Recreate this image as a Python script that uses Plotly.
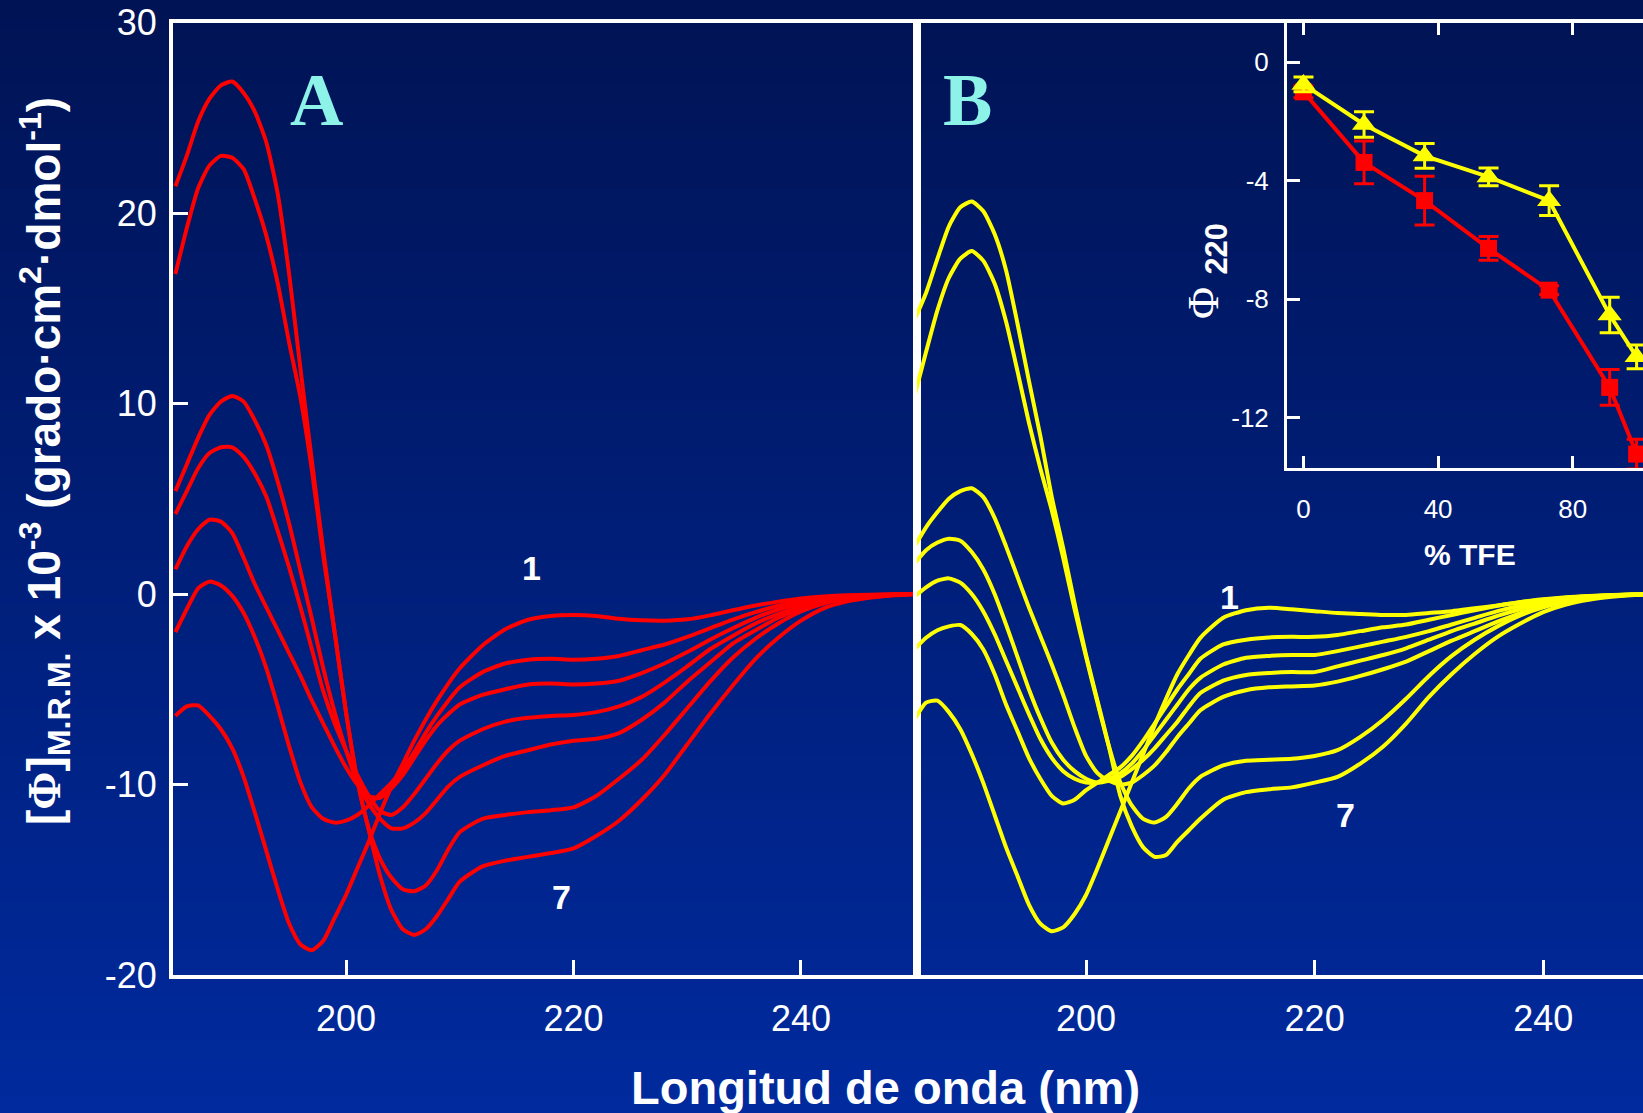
import plotly.graph_objects as go

# ---------------- data ----------------
WAVELENGTH = list(range(185, 211)) + list(range(212, 251, 2))

# Panel A (red), curves 1..7
A1 = [-6.4, -5.9, -5.85, -6.4, -7.1, -8.1, -9.6, -11.5, -13.5, -15.5, -17.3, -18.4, -18.7, -18.2, -17.0, -15.8, -14.4, -13.0, -11.5, -10.1, -8.9, -7.7, -6.6, -5.6, -4.7, -3.9,
      -2.7, -1.85, -1.35, -1.15, -1.1, -1.15, -1.3, -1.38, -1.4, -1.33, -1.12, -0.85, -0.6, -0.4, -0.23, -0.13, -0.07, -0.04, -0.02, 0.0]
A2 = [-2.0, -0.8, 0.3, 0.65, 0.45, -0.1, -1.0, -2.3, -3.9, -5.9, -8.0, -9.9, -11.2, -11.8, -12.0, -11.9, -11.6, -11.1, -10.5, -9.9, -9.2, -8.3, -7.3, -6.4, -5.6, -4.9,
      -4.1, -3.65, -3.45, -3.4, -3.45, -3.4, -3.25, -2.95, -2.65, -2.25, -1.8, -1.35, -0.95, -0.62, -0.38, -0.22, -0.12, -0.06, -0.02, 0.0]
A3 = [1.3, 2.5, 3.4, 3.9, 3.8, 3.2, 1.9, 0.5, -0.7, -1.9, -3.1, -4.3, -5.6, -6.8, -8.0, -9.1, -10.0, -10.6, -10.7, -10.2, -9.5, -8.6, -7.7, -6.9, -6.3, -5.8,
      -5.3, -5.0, -4.75, -4.7, -4.75, -4.7, -4.55, -4.15, -3.65, -3.05, -2.4, -1.8, -1.25, -0.82, -0.52, -0.3, -0.16, -0.08, -0.03, 0.0]
A4 = [4.2, 5.4, 6.6, 7.4, 7.7, 7.7, 7.2, 6.3, 5.1, 3.3, 1.4, -0.7, -2.9, -5.1, -6.8, -8.2, -9.5, -10.6, -11.4, -11.6, -11.2, -10.5, -9.7, -8.9, -8.2, -7.7,
      -7.1, -6.7, -6.5, -6.4, -6.35, -6.2, -5.9, -5.4, -4.65, -3.8, -2.9, -2.2, -1.55, -1.05, -0.66, -0.38, -0.2, -0.1, -0.04, 0.0]
A5 = [5.4, 6.8, 8.2, 9.4, 10.1, 10.4, 10.1, 9.1, 7.8, 5.9, 3.7, 1.2, -1.3, -3.9, -6.2, -8.2, -9.9, -11.0, -11.8, -12.3, -12.3, -12.0, -11.5, -10.8, -10.1, -9.6,
      -9.0, -8.5, -8.2, -7.9, -7.7, -7.6, -7.3, -6.6, -5.7, -4.6, -3.6, -2.6, -1.9, -1.25, -0.76, -0.44, -0.24, -0.12, -0.05, 0.0]
A6 = [16.8, 19.2, 21.3, 22.5, 23.0, 22.9, 22.3, 20.7, 18.8, 16.3, 13.2, 10.3, 6.5, 2.0, -2.0, -6.2, -9.8, -12.3, -13.9, -14.9, -15.5, -15.6, -15.3, -14.5, -13.4, -12.5,
      -11.8, -11.6, -11.45, -11.35, -11.2, -10.6, -9.7, -8.7, -7.4, -6.0, -4.6, -3.35, -2.35, -1.55, -0.92, -0.5, -0.27, -0.13, -0.05, 0.0]
A7 = [21.4, 23.0, 24.8, 26.0, 26.7, 26.9, 26.3, 25.3, 23.7, 21.0, 16.8, 11.8, 7.0, 2.3, -2.0, -6.2, -9.8, -12.4, -14.8, -16.6, -17.6, -17.9, -17.6, -16.9, -16.0, -15.1,
      -14.3, -14.0, -13.8, -13.6, -13.35, -12.7, -11.9, -10.8, -9.5, -7.9, -6.3, -4.8, -3.4, -2.3, -1.4, -0.75, -0.4, -0.2, -0.08, 0.0]

# Panel B (yellow), curves 1..7
B1 = [-6.6, -5.7, -5.6, -6.2, -7.1, -8.4, -9.9, -11.6, -13.3, -14.8, -16.3, -17.3, -17.7, -17.5, -16.8, -15.8, -14.4, -12.9, -11.4, -9.9, -8.4, -6.9, -5.5, -4.2, -3.2, -2.3,
      -1.25, -0.85, -0.72, -0.8, -0.9, -1.0, -1.05, -1.1, -1.1, -1.0, -0.9, -0.75, -0.6, -0.43, -0.3, -0.2, -0.12, -0.06, -0.02, 0.0]
B2 = [-2.9, -2.3, -1.9, -1.7, -1.63, -2.1, -2.9, -4.2, -5.8, -7.2, -8.6, -9.7, -10.6, -11.0, -10.8, -10.3, -9.9, -9.5, -9.1, -8.5, -7.7, -6.8, -5.9, -5.0, -4.2, -3.4,
      -2.65, -2.4, -2.28, -2.25, -2.25, -2.15, -1.95, -1.75, -1.6, -1.35, -1.1, -0.85, -0.62, -0.42, -0.28, -0.17, -0.1, -0.05, -0.02, 0.0]
B3 = [-0.14, 0.35, 0.7, 0.82, 0.6, 0.0, -0.9, -2.1, -3.5, -4.9, -6.3, -7.6, -8.6, -9.3, -9.7, -9.9, -9.9, -9.7, -9.4, -8.9, -8.2, -7.4, -6.6, -5.8, -5.0, -4.4,
      -3.7, -3.35, -3.25, -3.2, -3.2, -3.0, -2.75, -2.5, -2.25, -1.95, -1.6, -1.25, -0.9, -0.62, -0.42, -0.26, -0.15, -0.07, -0.03, 0.0]
B4 = [1.6, 2.3, 2.7, 2.9, 2.8, 2.2, 1.3, 0.0, -1.6, -3.3, -5.0, -6.5, -7.8, -8.7, -9.3, -9.7, -9.9, -9.8, -9.6, -9.2, -8.7, -8.1, -7.4, -6.7, -5.9, -5.2,
      -4.55, -4.25, -4.15, -4.1, -4.1, -3.8, -3.5, -3.2, -2.85, -2.4, -1.95, -1.55, -1.15, -0.8, -0.52, -0.32, -0.18, -0.09, -0.03, 0.0]
B5 = [2.5, 3.5, 4.3, 5.0, 5.4, 5.55, 5.1, 4.0, 2.5, 0.9, -0.7, -2.2, -3.7, -5.3, -7.0, -8.5, -9.4, -9.8, -10.0, -9.9, -9.5, -9.0, -8.3, -7.5, -6.8, -6.1,
      -5.4, -5.05, -4.9, -4.85, -4.8, -4.6, -4.3, -3.95, -3.55, -3.0, -2.45, -1.95, -1.45, -1.0, -0.65, -0.4, -0.22, -0.1, -0.04, 0.0]
B6 = [10.4, 12.7, 14.9, 16.6, 17.6, 18.0, 17.5, 16.3, 14.3, 11.7, 9.0, 6.6, 4.4, 1.9, -0.8, -3.3, -5.7, -8.0, -9.9, -11.1, -11.8, -12.0, -11.7, -11.0, -10.2, -9.6,
      -9.0, -8.75, -8.7, -8.65, -8.5, -8.2, -7.5, -6.6, -5.5, -4.3, -3.25, -2.4, -1.7, -1.12, -0.7, -0.4, -0.22, -0.1, -0.04, 0.0]
B7 = [14.4, 15.8, 17.6, 19.3, 20.3, 20.6, 20.1, 18.9, 17.0, 14.2, 11.2, 8.3, 5.1, 2.4, -0.5, -3.2, -5.6, -8.0, -10.6, -12.2, -13.3, -13.8, -13.7, -13.0, -12.4, -11.8,
      -10.8, -10.4, -10.25, -10.15, -9.9, -9.6, -8.9, -8.0, -6.8, -5.4, -4.2, -3.15, -2.25, -1.55, -0.95, -0.55, -0.3, -0.15, -0.05, 0.0]

# Inset: Phi 220 vs % TFE
TFE = [0, 18, 36, 55, 73, 91, 99]
PHI_RED = [-1.0, -3.38, -4.67, -6.28, -7.69, -10.97, -13.22]
ERR_RED = [0.2, 0.72, 0.82, 0.4, 0.15, 0.6, 0.5]
PHI_YEL = [-0.75, -2.1, -3.16, -3.87, -4.67, -8.53, -9.94]
ERR_YEL = [0.25, 0.43, 0.42, 0.3, 0.5, 0.6, 0.4]

Y_TICKS = [-20, -10, 0, 10, 20, 30]
X_TICKS = [200, 220, 240]
INSET_X_TICKS = [0, 40, 80]
INSET_Y_TICKS = [0, -4, -8, -12]

# ---------------- figure ----------------
W, H = 1643, 1113
RED = "#FF0000"
YEL = "#FFFF00"
SANS = "Arial, 'Liberation Sans', sans-serif"
SERIF = "'Times New Roman', 'Liberation Serif', serif"

fig = go.Figure()

for ys in [A1, A2, A3, A4, A5, A6, A7]:
    fig.add_trace(go.Scatter(x=WAVELENGTH, y=ys, mode="lines", xaxis="x", yaxis="y",
                             line=dict(color=RED, width=4, shape="spline", smoothing=0.6),
                             showlegend=False, hoverinfo="skip"))
for ys in [B1, B2, B3, B4, B5, B6, B7]:
    fig.add_trace(go.Scatter(x=WAVELENGTH, y=ys, mode="lines", xaxis="x2", yaxis="y2",
                             line=dict(color=YEL, width=4, shape="spline", smoothing=0.6),
                             showlegend=False, hoverinfo="skip"))

fig.add_trace(go.Scatter(x=TFE, y=PHI_RED, mode="lines+markers", xaxis="x3", yaxis="y3",
                         line=dict(color=RED, width=4),
                         marker=dict(symbol="square", size=17, color=RED),
                         error_y=dict(type="data", array=ERR_RED, color=RED, thickness=3, width=10),
                         showlegend=False, hoverinfo="skip", cliponaxis=False))
fig.add_trace(go.Scatter(x=TFE, y=PHI_YEL, mode="lines+markers", xaxis="x3", yaxis="y3",
                         line=dict(color=YEL, width=4),
                         marker=dict(symbol="triangle-up", size=21, color=YEL),
                         error_y=dict(type="data", array=ERR_YEL, color=YEL, thickness=3, width=10),
                         showlegend=False, hoverinfo="skip", cliponaxis=False))

# background gradient (vertical)
top_c = (0, 19, 84)
bot_c = (0, 42, 158)
N = 120
shapes = []
for i in range(N):
    y0 = i / N
    y1 = (i + 1) / N + 0.003
    t = (i + 0.5) / N  # 0 bottom, 1 top
    c = tuple(round(bot_c[k] + (top_c[k] - bot_c[k]) * t) for k in range(3))
    shapes.append(dict(type="rect", xref="paper", yref="paper", x0=-0.01, x1=1.01, y0=y0 - 0.002, y1=y1,
                       fillcolor="rgb(%d,%d,%d)" % c, line=dict(width=0), layer="below"))

TOP = 1 - 22.5 / H
main_ydom = [1 - 975 / H, TOP]

axis_common = dict(showgrid=False, zeroline=False, linecolor="white", tickcolor="white",
                   showline=True, automargin=False)

fig.update_layout(
    width=W, height=H,
    margin=dict(l=0, r=0, t=0, b=0, pad=0, autoexpand=False),
    paper_bgcolor="rgb(0,30,120)",
    plot_bgcolor="rgba(0,0,0,0)",
    shapes=shapes,
    xaxis=dict(domain=[173 / W, 917 / W], range=[184.79, 250.2], anchor="y", mirror=True,
               linewidth=4, ticks="inside", ticklen=15, tickwidth=3, tickvals=X_TICKS,
               ticktext=[str(v) for v in X_TICKS],
               tickfont=dict(family=SANS, size=36, color="white"), ticklabelstandoff=9,
               **axis_common),
    yaxis=dict(domain=main_ydom, range=[-20, 30], anchor="x", mirror=True,
               linewidth=4, ticks="inside", ticklen=15, tickwidth=3, tickvals=Y_TICKS,
               ticktext=[str(v) for v in Y_TICKS],
               tickfont=dict(family=SANS, size=36, color="white"), ticklabelstandoff=5,
               **axis_common),
    xaxis2=dict(domain=[917 / W, 1.0], range=[185.21, 248.73], anchor="y2", mirror=True,
                linewidth=4, ticks="inside", ticklen=15, tickwidth=3, tickvals=X_TICKS,
                ticktext=[str(v) for v in X_TICKS],
                tickfont=dict(family=SANS, size=36, color="white"), ticklabelstandoff=9,
                **axis_common),
    yaxis2=dict(domain=main_ydom, range=[-20, 30], anchor="x2", linewidth=4,
                ticks="", showticklabels=False, **axis_common),
    xaxis3=dict(domain=[1287 / W, 1.0], range=[-4.9, 100.9], anchor="y3", mirror="ticks",
                linewidth=3, ticks="inside", ticklen=12, tickwidth=3, tickvals=INSET_X_TICKS,
                ticktext=[str(v) for v in INSET_X_TICKS],
                tickfont=dict(family=SANS, size=26, color="white"), ticklabelstandoff=16,
                **axis_common),
    yaxis3=dict(domain=[1 - 468 / H, TOP], range=[-13.69, 1.34], anchor="x3",
                linewidth=3, ticks="inside", ticklen=13, tickwidth=3, tickvals=INSET_Y_TICKS,
                ticktext=[str(v) for v in INSET_Y_TICKS],
                tickfont=dict(family=SANS, size=26, color="white"), ticklabelstandoff=10,
                **axis_common),
)


def px(x):
    return x / W


def py(y):
    return 1 - y / H


ann = []
# Panel letters
for txt, x, y in [("A", 316, 100), ("B", 967, 100)]:
    ann.append(dict(text="<b>%s</b>" % txt, x=px(x), y=py(y), xref="paper", yref="paper",
                    showarrow=False, xanchor="center", yanchor="middle",
                    font=dict(family=SERIF, size=74, color="#8DF2E8")))
# curve labels
for txt, x, y in [("1", 531, 568), ("7", 561, 897), ("1", 1229, 597), ("7", 1345, 815)]:
    ann.append(dict(text="<b>%s</b>" % txt, x=px(x), y=py(y), xref="paper", yref="paper",
                    showarrow=False, xanchor="center", yanchor="middle",
                    font=dict(family=SANS, size=34, color="white")))
# x title
ann.append(dict(text="<b>Longitud de onda (nm)</b>", x=px(885), y=py(1087), xref="paper", yref="paper",
                showarrow=False, xanchor="center", yanchor="middle",
                font=dict(family=SANS, size=47, color="white")))
# y title
ann.append(dict(text="<b>[<span style='font-family:Liberation Serif, Times New Roman, serif'>Φ</span>]"
                     "<sub>M.R.M.</sub> x 10<sup>-3</sup> (grado·cm<sup>2</sup>·dmol<sup>-1</sup>)</b>",
                x=px(44), y=py(461), xref="paper", yref="paper", textangle=-90,
                showarrow=False, xanchor="center", yanchor="middle",
                font=dict(family=SANS, size=46, color="white")))
# inset titles
ann.append(dict(text="<b>% TFE</b>", x=px(1470), y=py(555), xref="paper", yref="paper",
                showarrow=False, xanchor="center", yanchor="middle",
                font=dict(family=SANS, size=30, color="white")))
ann.append(dict(text="<span style='font-family:Liberation Serif, Times New Roman, serif'>Φ</span>"
                     " <b><sub>220</sub></b>",
                x=px(1206), y=py(271), xref="paper", yref="paper", textangle=-90,
                showarrow=False, xanchor="center", yanchor="middle",
                font=dict(family=SANS, size=44, color="white")))

fig.update_layout(annotations=ann)

fig.write_html("out.html")
